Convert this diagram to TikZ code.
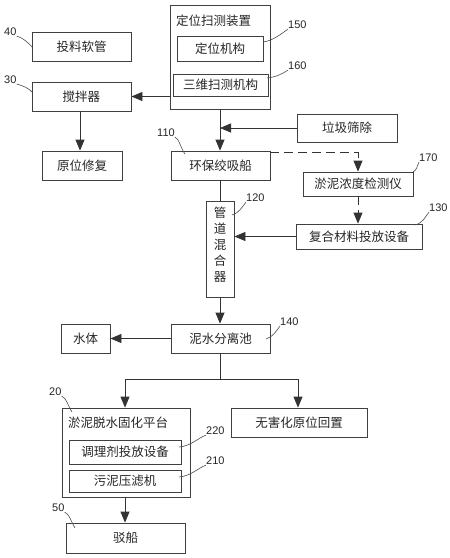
\documentclass[tikz,border=0pt]{standalone}
\usepackage{fontspec}
\setmainfont{Liberation Sans}
\newfontfamily\cjk{Noto Sans CJK SC}
\usetikzlibrary{arrows.meta}
\begin{document}
\begin{tikzpicture}[x=1pt,y=-1pt,
  box/.style={draw=black!75, line width=0.8pt, inner sep=0pt, font=\cjk\fontsize{12.5}{15}\selectfont, text=black!85},
  ttl/.style={inner sep=0pt, anchor=west, font=\cjk\fontsize{12.5}{15}\selectfont, text=black!85},
  lbl/.style={font=\fontsize{11}{12}\selectfont, text=black!85, inner sep=0pt, anchor=west},
  ln/.style={draw=black!80, line width=0.8pt},
  arr/.style={ln, -{Triangle[length=11pt,width=9pt]}},
  dsh/.style={arr, dash pattern=on 9pt off 5pt},
  lead/.style={draw=black!70, line width=0.6pt}]
\useasboundingbox (0,0) rectangle (450,558);
\fill[white] (0,0) rectangle (450,558);

% boxes
\node[box, minimum width=100pt, minimum height=104pt] (scan) at (220,57) {};
\node[ttl] (scant) at (176,21) {定位扫测装置};
\node[box, minimum width=86pt, minimum height=25pt] (pos) at (220,48.5) {定位机构};
\node[box, minimum width=95pt, minimum height=22pt] (tri) at (220.5,85) {三维扫测机构};
\node[box, minimum width=99pt, minimum height=29pt] (hose) at (81.5,46.5) {投料软管};
\node[box, minimum width=99pt, minimum height=29pt] (mix) at (81.5,96.5) {搅拌器};
\node[box, minimum width=80pt, minimum height=29pt] (repair) at (82,165.5) {原位修复};
\node[box, minimum width=100pt, minimum height=28pt] (trash) at (347,128) {垃圾筛除};
\node[box, minimum width=99pt, minimum height=29pt] (ship) at (220.5,165.5) {环保绞吸船};
\node[box, minimum width=110pt, minimum height=24pt] (det) at (358,184) {淤泥浓度检测仪};
\node[box, minimum width=28pt, minimum height=96pt] (pipe) at (220,249) {};
\node[inner sep=0pt, align=center, font=\cjk\fontsize{12.5}{16}\selectfont, text=black!85] (pipet) at (220,245) {管\\道\\混\\合\\器};
\node[box, minimum width=126pt, minimum height=25pt] (comp) at (359,236.5) {复合材料投放设备};
\node[box, minimum width=99pt, minimum height=29pt] (sep) at (220.5,338.5) {泥水分离池};
\node[box, minimum width=49pt, minimum height=29pt] (water) at (85.5,338.5) {水体};
\node[box, minimum width=128pt, minimum height=89pt] (plat) at (126,452.5) {};
\node[ttl] (platt) at (68,423) {淤泥脱水固化平台};
\node[box, minimum width=112pt, minimum height=24pt] (cond) at (125,452) {调理剂投放设备};
\node[box, minimum width=112pt, minimum height=22pt] (press) at (125,481) {污泥压滤机};
\node[box, minimum width=136pt, minimum height=29pt] (harm) at (299,422.5) {无害化原位回置};
\node[box, minimum width=119pt, minimum height=30pt] (barge) at (125.5,538) {驳船};

% connectors
\draw[arr] (scan.west |- mix.east) -- (mix.east);
\draw[arr] (mix.south -| 80,0) -- (repair.north -| 80,0);
\draw[arr] (scan.south) -- (ship.north -| scan.south);
\draw[arr] (trash.west) -- (trash.west -| scan.south);
\draw[dsh] ([yshift=-2pt]ship.north east) -| (det.north);
\draw[dsh] (det.south) -- (det.south |- comp.north);
\draw[ln] (ship.south -| pipe.north) -- (pipe.north);
\draw[arr] (comp.west) -- (comp.west -| pipe.east);
\draw[arr] (pipe.south) -- (sep.north -| pipe.south);
\draw[arr] (sep.west) -- (water.east);
\coordinate (split) at (220,379);
\draw[ln] (sep.south -| split) -- (split);
\draw[arr] (split) -| (plat.north -| 125,0);
\draw[arr] (split) -| (harm.north -| 298,0);
\draw[arr] (plat.south -| 125,0) -- (barge.north -| 125,0);

% labels and leaders
\node[lbl] (l150) at (288,25) {150};
\coordinate (a150) at (263,42);
\draw[lead] (a150) .. controls +(10,-1) and +(-6,4) .. (l150.south west);
\node[lbl] (l160) at (288,66) {160};
\coordinate (a160) at (267,78);
\draw[lead] (a160) .. controls +(9,-1) and +(-6,4) .. (l160.south west);
\node[lbl] (l40) at (4,32) {40};
\coordinate (a40) at (33,48);
\draw[lead] (l40.south east) .. controls +(5,1) and +(-4,-5) .. (a40);
\node[lbl] (l30) at (4,80) {30};
\coordinate (a30) at (33,93);
\draw[lead] (l30.south east) .. controls +(5,1) and +(-4,-5) .. (a30);
\node[lbl] (l110) at (157,133) {110};
\coordinate (a110) at (185,154);
\draw[lead] (l110.south east) .. controls +(4,1) and +(-4,-5) .. (a110);
\node[lbl] (l170) at (419,158) {170};
\coordinate (a170) at (413,172);
\draw[lead] (a170) .. controls +(4,-2) and +(-2,4) .. (l170.south west);
\node[lbl] (l120) at (246,198) {120};
\coordinate (a120) at (232,215);
\draw[lead] (a120) .. controls +(7,-2) and +(-4,5) .. (l120.south west);
\node[lbl] (l130) at (429,208) {130};
\coordinate (a130) at (415,225);
\draw[lead] (a130) .. controls +(8,-2) and +(-4,5) .. (l130.south west);
\node[lbl] (l140) at (280,322) {140};
\coordinate (a140) at (266,339);
\draw[lead] (a140) .. controls +(7,-2) and +(-4,5) .. (l140.south west);
\node[lbl] (l20) at (49,392) {20};
\coordinate (a20) at (72,412);
\draw[lead] (l20.south east) .. controls +(4,1) and +(-3,-5) .. (a20);
\node[lbl] (l220) at (206,431) {220};
\coordinate (a220) at (179,447);
\draw[lead] (a220) .. controls +(12,-1) and +(-8,3) .. (l220.south west);
\node[lbl] (l210) at (206,461) {210};
\coordinate (a210) at (179,477);
\draw[lead] (a210) .. controls +(12,-1) and +(-8,3) .. (l210.south west);
\node[lbl] (l50) at (52,508) {50};
\coordinate (a50) at (75,528);
\draw[lead] (l50.south east) .. controls +(4,1) and +(-3,-5) .. (a50);
\end{tikzpicture}
\end{document}
